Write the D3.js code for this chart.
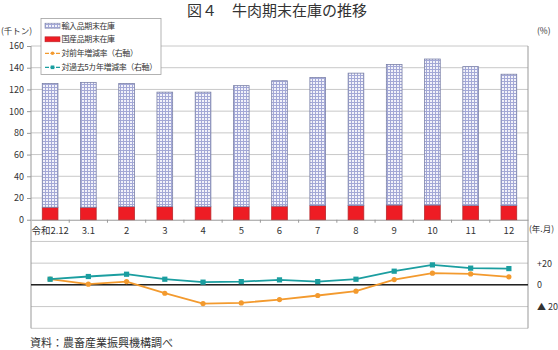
<!DOCTYPE html>
<html><head><meta charset="utf-8">
<script src="https://cdn.jsdelivr.net/npm/d3@7"></script>
<style>body{margin:0;background:#fff}svg{display:block}</style>
</head><body><svg id="c" width="558" height="350"></svg>
<script>
const categories = ["令和2.12","3.1","2","3","4","5","6","7","8","9","10","11","12"];
const importStock = [114, 115, 113.5, 105.5, 105.5, 111.5, 115.5, 118, 122, 129.5, 134.5, 128, 121];
const domesticStock = [11.5, 11.5, 12, 12, 12, 12, 12.5, 13, 13, 13.5, 13.5, 13, 13];
const yoyChange = [5.2, 0.6, 3, -7.7, -17.2, -16.6, -13.5, -9.8, -5.8, 4.9, 10.8, 10.1, 7.4];
const fiveYearChange = [5.2, 7.7, 9.8, 5.2, 2.5, 3, 4.6, 3, 5.2, 12.6, 18.4, 15.4, 15];
const leftTickValues = [0, 20, 40, 60, 80, 100, 120, 140, 160];
const rightTickValues = [20, 0, -20];
const rightTickLabels = ["+20", "0", "▲ 20"];
const seriesNames = ["輸入品期末在庫", "国産品期末在庫", "対前年増減率（右軸）", "対過去5カ年増減率（右軸）"];

const FONT = "'Noto Sans CJK JP', 'Noto Sans', sans-serif";
const svg = d3.select("#c").style("font-family", FONT);
const L = 31, R = 528, T = 46, B = 328.3;

const x = d3.scaleBand().domain(categories).range([L, R]).paddingInner(0.59).paddingOuter(0.295);
const step = x.step();
const yL = d3.scaleLinear().domain([-100, 160]).range([B, T]);
const yR = d3.scaleLinear().domain([-40, 220]).range([B, T]);

// pattern
const defs = svg.append("defs");
const pat = defs.append("pattern").attr("id", "grid").attr("patternUnits", "userSpaceOnUse")
  .attr("width", 3).attr("height", 3);
pat.append("rect").attr("width", 3).attr("height", 3).attr("fill", "#f2f2fa");
pat.append("rect").attr("width", 3).attr("height", 1).attr("fill", "#a3a8d6");
pat.append("rect").attr("width", 1).attr("height", 3).attr("fill", "#a3a8d6");

// title
svg.append("text").attr("x", 277).attr("y", 16).attr("text-anchor", "middle")
  .attr("font-size", 15).attr("fill", "#333").text("図４　牛肉期末在庫の推移");

// gridlines
const gridVals = d3.range(-100, 161, 20);
svg.append("g").selectAll("line").data(gridVals.filter(v => v !== 0)).join("line")
  .attr("x1", L).attr("x2", R).attr("y1", d => yL(d)).attr("y2", d => yL(d))
  .attr("stroke", "#c8c8c8").attr("stroke-width", 1);

// left axis
const gL = svg.append("g").attr("transform", `translate(${L},0)`)
  .call(d3.axisLeft(yL).tickValues(leftTickValues).tickSize(4).tickPadding(3));
gL.select(".domain").remove();
gL.selectAll("line").attr("stroke", "#999");
gL.selectAll("text").attr("font-size", 9).attr("fill", "#333").attr("font-family", FONT);
svg.append("line").attr("x1", L).attr("x2", L).attr("y1", T).attr("y2", B).attr("stroke", "#999");
svg.append("line").attr("x1", R).attr("x2", R).attr("y1", T).attr("y2", B).attr("stroke", "#999");

// x axis at left 0
const gX = svg.append("g").attr("transform", `translate(0,${yL(0)})`)
  .call(d3.axisBottom(x).tickSize(0).tickPadding(8));
gX.select(".domain").attr("stroke", "#999");
gX.selectAll("text").attr("font-size", 9.5).attr("fill", "#333").attr("font-family", FONT);
svg.append("g").selectAll("line").data(categories.slice(1)).join("line")
  .attr("x1", d => x(d) - (step - x.bandwidth()) / 2).attr("x2", d => x(d) - (step - x.bandwidth()) / 2)
  .attr("y1", yL(0)).attr("y2", yL(0) + 3).attr("stroke", "#999");

// right axis labels
svg.append("g").selectAll("text").data(rightTickValues).join("text")
  .attr("x", 537).attr("y", d => yR(d) + 3.5).attr("font-size", 9).attr("fill", "#333")
  .text((d, i) => rightTickLabels[i]);

// unit labels
svg.append("text").attr("x", 1).attr("y", 34).attr("font-size", 8.5).attr("fill", "#333").text("(千トン)");
svg.append("text").attr("x", 537).attr("y", 34).attr("font-size", 8.5).attr("fill", "#333").text("(%)");
svg.append("text").attr("x", 529).attr("y", 232).attr("font-size", 8.5).attr("fill", "#333").text("(年.月)");

// bars
const bars = svg.append("g");
bars.selectAll("rect.dom").data(categories).join("rect").attr("class", "dom")
  .attr("x", d => x(d)).attr("width", x.bandwidth())
  .attr("y", (d, i) => yL(domesticStock[i])).attr("height", (d, i) => yL(0) - yL(domesticStock[i]))
  .attr("fill", "#ee1c24").attr("stroke", "#b8282c").attr("stroke-width", 0.8);
bars.selectAll("rect.imp").data(categories).join("rect").attr("class", "imp")
  .attr("x", d => x(d)).attr("width", x.bandwidth())
  .attr("y", (d, i) => yL(domesticStock[i] + importStock[i]))
  .attr("height", (d, i) => yL(domesticStock[i]) - yL(domesticStock[i] + importStock[i]))
  .attr("fill", "url(#grid)").attr("stroke", "#7a80a8").attr("stroke-width", 0.8);

// zero line of right axis
svg.append("line").attr("x1", L).attr("x2", R).attr("y1", yR(0)).attr("y2", yR(0))
  .attr("stroke", "#222").attr("stroke-width", 1.5);

// lines
const cx = d => x(d) + x.bandwidth() / 2;
const ORANGE = "#f39a2e", TEAL = "#1b9ea0";
const lineGen = arr => d3.line().x(d => cx(d)).y((d, i) => yR(arr[i]));
svg.append("path").datum(categories).attr("d", lineGen(yoyChange))
  .attr("fill", "none").attr("stroke", ORANGE).attr("stroke-width", 1.8);
svg.append("g").selectAll("circle").data(categories).join("circle")
  .attr("cx", cx).attr("cy", (d, i) => yR(yoyChange[i])).attr("r", 2.6).attr("fill", ORANGE);
svg.append("path").datum(categories).attr("d", lineGen(fiveYearChange))
  .attr("fill", "none").attr("stroke", TEAL).attr("stroke-width", 1.8);
svg.append("g").selectAll("rect").data(categories).join("rect")
  .attr("x", d => cx(d) - 2.6).attr("y", (d, i) => yR(fiveYearChange[i]) - 2.6)
  .attr("width", 5.2).attr("height", 5.2).attr("fill", TEAL);

// legend
const lg = svg.append("g");
lg.append("rect").attr("x", 41).attr("y", 18.5).attr("width", 120).attr("height", 56)
  .attr("fill", "#fff").attr("stroke", "#a0a0a0").attr("stroke-width", 0.8);
const ly = [25.7, 39.3, 53.3, 67.3];
lg.append("rect").attr("x", 45).attr("y", ly[0] - 2.5).attr("width", 15).attr("height", 5)
  .attr("fill", "url(#grid)").attr("stroke", "#7a80a8").attr("stroke-width", 0.6);
lg.append("rect").attr("x", 45).attr("y", ly[1] - 2.5).attr("width", 15).attr("height", 5)
  .attr("fill", "#ee1c24").attr("stroke", "#b8282c").attr("stroke-width", 0.6);
lg.append("line").attr("x1", 45).attr("x2", 60).attr("y1", ly[2]).attr("y2", ly[2])
  .attr("stroke", ORANGE).attr("stroke-width", 1.3).attr("stroke-dasharray", "4,1.5");
lg.append("circle").attr("cx", 52.5).attr("cy", ly[2]).attr("r", 1.8).attr("fill", ORANGE);
lg.append("line").attr("x1", 45).attr("x2", 60).attr("y1", ly[3]).attr("y2", ly[3])
  .attr("stroke", TEAL).attr("stroke-width", 1.3).attr("stroke-dasharray", "4,1.5");
lg.append("rect").attr("x", 50.7).attr("y", ly[3] - 1.8).attr("width", 3.6).attr("height", 3.6).attr("fill", TEAL);
lg.selectAll("text").data(seriesNames).join("text")
  .attr("x", 61.5).attr("y", (d, i) => ly[i] + 3).attr("font-size", 8).attr("fill", "#333")
  .attr("letter-spacing", -0.4).text(d => d);

// source
svg.append("text").attr("x", 30).attr("y", 347).attr("font-size", 11).attr("fill", "#333")
  .text("資料：農畜産業振興機構調べ");
</script></body></html>
